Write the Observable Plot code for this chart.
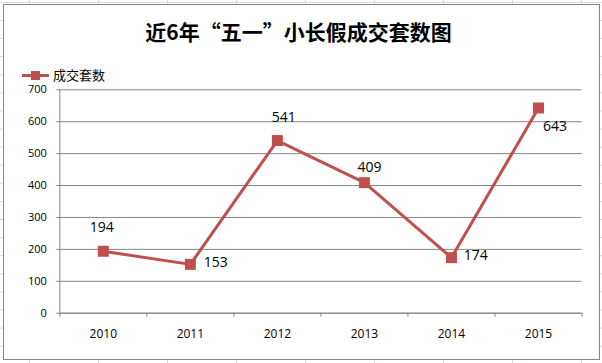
<!DOCTYPE html>
<html>
<head>
<meta charset="utf-8">
<script src="https://cdn.jsdelivr.net/npm/d3@7"></script>
<script src="https://cdn.jsdelivr.net/npm/@observablehq/plot@0.6"></script>
<style>
  html, body { margin: 0; padding: 0; }
  body {
    width: 602px; height: 363px; overflow: hidden; position: relative;
    background-color: #fff;
    background-image:
      repeating-linear-gradient(to right, transparent 0, transparent 29px, #d0d7e5 29px, #d0d7e5 30px, transparent 30px, transparent 69px),
      repeating-linear-gradient(to bottom, transparent 0, transparent 2px, #d0d7e5 2px, #d0d7e5 3px, transparent 3px, transparent 18.1px);
    background-size: 69px 100%, 100% 18.1px;
  }
  #frame {
    position: absolute; left: 3px; top: 4px; width: 595px; height: 354px;
    border: 1px solid #868686; background: #fff;
  }
  #title {
    position: absolute; left: 0; width: 597px; top: 16px; text-align: center;
    font-family: "Noto Sans CJK SC", sans-serif; font-weight: bold; font-size: 21px;
    line-height: 30px; color: #000;
  }
  #legend {
    position: absolute; left: 22px; top: 66px; height: 18px;
    font-family: "Noto Sans CJK SC", sans-serif; font-size: 13px; color: #000;
  }
  #legend .sw { position: absolute; left: 0; top: 8px; width: 27px; height: 3px; background: #C0504D; }
  #legend .sq { position: absolute; left: 9px; top: 5px; width: 9px; height: 9px; background: #C0504D; }
  #legend .tx { position: absolute; left: 31px; top: 0; white-space: nowrap; line-height: 18px; }
  #chart { position: absolute; left: 0; top: 0; }
</style>
</head>
<body>
<div id="frame"></div>
<div id="title">近6年“五一”小长假成交套数图</div>
<div id="legend"><div class="sw"></div><div class="sq"></div><div class="tx">成交套数</div></div>
<div id="chart"></div>
<script>
const years = [2010, 2011, 2012, 2013, 2014, 2015];
const counts = [194, 153, 541, 409, 174, 643];
const yTicks = [0, 100, 200, 300, 400, 500, 600, 700];
const xEdges = [2009.5, 2010.5, 2011.5, 2012.5, 2013.5, 2014.5, 2015.5];
const seriesName = "成交套数";

const data = years.map((y, i) => ({year: y, value: counts[i]}));
const color = "#C0504D";
const grey = "#868686";

// label placement (style only): [dx, dy, textAnchor]
const placement = {
  2010: [-1.5, -24, "middle"],
  2011: [13.5, -1.5, "start"],
  2012: [6.4, -23, "middle"],
  2013: [5, -15, "middle"],
  2014: [12.4, -2, "start"],
  2015: [4.4, 18.5, "start"]
};

const labelMarks = data.map(d => {
  const [dx, dy, anchor] = placement[d.year];
  return Plot.text([d], {x: "year", y: "value", text: d => String(d.value),
    dx, dy, textAnchor: anchor, fontSize: 14, fill: "#000"});
});

const chart = Plot.plot({
  width: 602, height: 363,
  marginLeft: 59.3, marginRight: 20.5, marginTop: 89.3, marginBottom: 50.3,
  x: {domain: [xEdges[0], xEdges[xEdges.length - 1]]},
  y: {domain: [0, 700]},
  style: {background: "transparent", fontFamily: "'Open Sans', sans-serif", color: "#000"},
  marks: [
    Plot.gridY(yTicks, {stroke: grey, strokeOpacity: 1}),
    Plot.axisY(yTicks, {tickSize: 3, tickPadding: 10, fontSize: 11, stroke: grey, fill: "#000", label: null}),
    Plot.ruleX([xEdges[0]], {stroke: grey}),
    Plot.ruleY([0], {stroke: grey}),
    Plot.axisX(xEdges, {tickSize: 4, tickFormat: () => "", stroke: grey, label: null}),
    Plot.axisX(years, {tickSize: 0, tickPadding: 16, tickFormat: d => String(d), fontSize: 12, fill: "#000", label: null}),
    Plot.line(data, {x: "year", y: "value", stroke: color, strokeWidth: 3}),
    Plot.dot(data, {x: "year", y: "value", symbol: "square", r: 6.2, fill: color, stroke: "none"}),
    ...labelMarks
  ]
});
document.getElementById("chart").appendChild(chart);
</script>
</body>
</html>
